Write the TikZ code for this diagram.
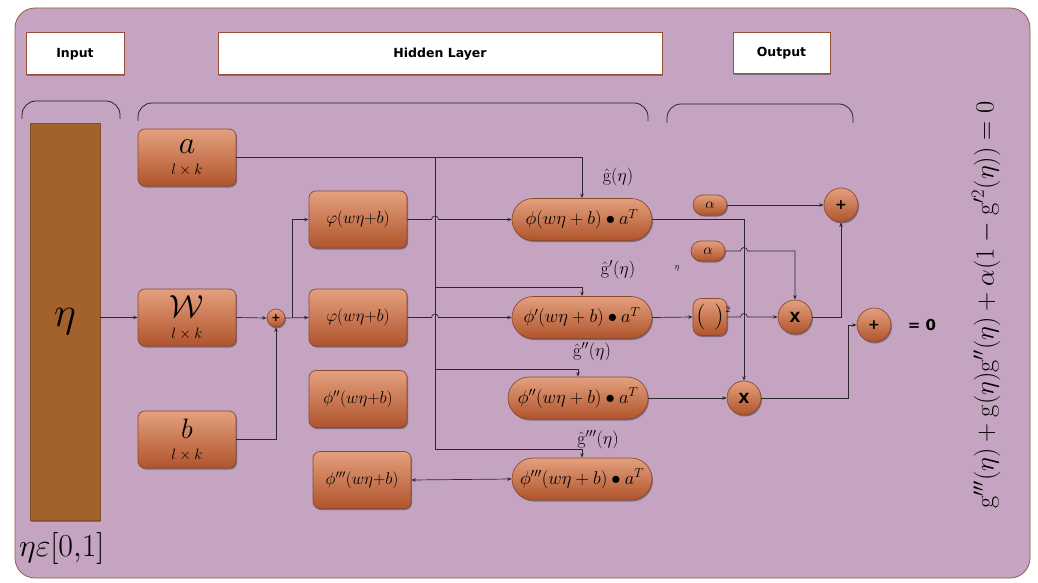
\RequirePackage{fix-cm}
\documentclass[tikz,border=0pt]{standalone}
\usepackage{amsmath}
\usepackage{fontspec}
\newfontfamily\hdfont{DejaVu Sans}
\usetikzlibrary{calc,shadows,arrows.meta}
\definecolor{bgc}{RGB}{196,164,192}
\definecolor{bgline}{RGB}{150,90,70}
\definecolor{boxtop}{RGB}{228,160,126}
\definecolor{boxbot}{RGB}{176,84,44}
\definecolor{boxline}{RGB}{140,74,48}
\definecolor{hdrline}{RGB}{150,80,55}
\definecolor{barc}{RGB}{163,98,44}
\definecolor{lnc}{RGB}{45,40,45}
\newcommand{\fs}[1]{\fontsize{#1}{#1}\selectfont}
\tikzset{
  shad/.style={drop shadow={shadow xshift=1pt,shadow yshift=-1.5pt,opacity=0.35,fill=black}},
  obox/.style={draw=boxline,line width=0.7pt,rounded corners=7pt,top color=boxtop,bottom color=boxbot,shad,inner sep=0pt,minimum width=98pt,minimum height=57pt,align=center},
  pill/.style={obox,rounded corners=21pt,minimum width=140pt,minimum height=42pt},
  smallpill/.style={obox,rounded corners=10pt,minimum width=34pt,minimum height=20pt},
  circ/.style={circle,draw=boxline,line width=0.7pt,top color=boxtop,bottom color=boxbot,shad,minimum size=34pt,inner sep=0pt,font=\hdfont\bfseries\fs{14}},
  hdr/.style={draw=hdrline,fill=white,line width=1pt,shad,inner sep=0pt,font=\hdfont\bfseries\fs{12.5}},
  glab/.style={inner sep=0.5pt},
  ln/.style={line width=0.7pt,draw=lnc},
  arr/.style={ln,-{Stealth[length=4.5pt,width=3.5pt]}},
  brace/.style={line width=0.8pt,draw=black!85,rounded corners=14pt},
}
\begin{document}
\begin{tikzpicture}[x=1pt,y=-1pt]
\useasboundingbox (0,0) rectangle (1038,583);
\draw[fill=bgc,draw=bgline,line width=0.8pt,rounded corners=20pt] (15,8) rectangle (1030,578);

% headers
\node[hdr,minimum width=98pt,minimum height=42pt] (inp) at (75,54) {Input};
\node[hdr,minimum width=444pt,minimum height=42pt] (hid) at (440,54) {Hidden Layer};
\node[hdr,minimum width=97pt,minimum height=41pt] (out) at (781.5,53.5) {Output};

% braces
\draw[brace] (22,119) -- (22,101) -- (120,101) -- (120,119);
\draw[brace] (138,121) -- (138,103) -- (648,103) -- (648,121);
\draw[brace] (667,123) -- (667,104) -- (853,104) -- (853,123);

% eta bar
\node[fill=barc,draw=barc!80!black,line width=0.5pt,shad,minimum width=70pt,minimum height=397pt,inner sep=0pt] (etabar) at (65,321.5) {\fs{42}$\eta$};
\node[anchor=west,inner sep=0pt] (range) at (19,548) {\fs{32}$\eta\varepsilon[0{,}1]$};

% input boxes
\node[obox] (a) at (187,157.5) {\fs{32}$a$\\[9pt]\fs{15}$l\times k$};
\node[obox] (W) at (187,317.5) {\fs{32}$\mathcal{W}$\\[9pt]\fs{15}$l\times k$};
\node[obox] (b) at (187,439.5) {\fs{28}$b$\\[9pt]\fs{15}$l\times k$};
\node[circle,draw=boxline,line width=0.7pt,top color=boxtop,bottom color=boxbot,shad,minimum size=18pt,inner sep=0pt,font=\hdfont\bfseries\fs{11}] (plus) at (276,318) {+};

% activation boxes
\node[obox] (f1) at (358,219.5) {\fs{17}$\varphi(w\eta{+}b)$};
\node[obox] (f2) at (358,317.5) {\fs{17}$\varphi(w\eta{+}b)$};
\node[obox] (f3) at (358,399) {\fs{17}$\phi''(w\eta{+}b)$};
\node[obox] (f4) at (362,480) {\fs{17}$\phi'''(w\eta{+}b)$};

% output pills
\node[pill] (g1) at (582,219.5) {\fs{18.5}$\phi(w\eta+b)\bullet a^{T}$};
\node[pill] (g2) at (582,317.5) {\fs{18.5}$\phi'(w\eta+b)\bullet a^{T}$};
\node[pill] (g3) at (578,398) {\fs{18.5}$\phi''(w\eta+b)\bullet a^{T}$};
\node[pill] (g4) at (582,479) {\fs{18.5}$\phi'''(w\eta+b)\bullet a^{T}$};
\node[glab] (lg1) at (618,177) {\fs{18}$\hat{\mathrm{g}}(\eta)$};
\node[glab] (lg2) at (618,270) {\fs{18}$\hat{\mathrm{g}}'(\eta)$};
\node[glab] (lg3) at (592,352) {\fs{18}$\hat{\mathrm{g}}''(\eta)$};
\node[glab] (lg4) at (598,440) {\fs{18}$\hat{\mathrm{g}}'''(\eta)$};

% output section
\node[smallpill] (al1) at (710,205) {\fs{15}$\alpha$};
\node[smallpill] (al2) at (708,251) {\fs{15}$\alpha$};
\node[glab] (etas) at (677,268) {\fs{9}$\eta$};
\node[obox,rounded corners=8pt,minimum width=34pt,minimum height=37pt] (sq) at (710,317) {\fs{26}$(\,\,)$};
\node[inner sep=0pt] (sq2) at (728,310) {\fs{9}$2$};
\node[circ] (x1) at (795,317) {X};
\node[circ] (x2) at (744,398) {X};
\node[circ] (p1) at (841,205) {+};
\node[circ] (p2) at (874,325) {+};
\node[font=\hdfont\bfseries\fs{15}] (eq0) at (922,325) {= 0};
\node[rotate=90] (deq) at (986,305) {\fs{26.5}$\mathrm{g}'''(\eta)+\mathrm{g}(\eta)\mathrm{g}''(\eta)+\alpha(1-\mathrm{g}'^{2}(\eta))=0$};

% connectors: input side
\draw[arr] (etabar.east |- W.west) -- (W.west);
\draw[arr] (W.east) -- (plus.west);
\draw[arr] (b.east) -| (plus.south);
\draw[arr] (plus.east) -- (f2.west);
\coordinate (br) at (292,317.5);
\draw[arr] (br) |- (f1.west);

% a distribution
\coordinate (vtop) at (435,157.5);
\coordinate (vbot) at (435,449);
\coordinate (v2) at (435,287);
\coordinate (v3) at (435,369);
\draw[arr] (a.east) -| (g1.north);
\draw[ln] (vtop) -- (vbot);
\draw[arr] (v2) -| (g2.north);
\draw[arr] (v3) -| (g3.north);
\draw[arr] (vbot) -| (g4.north);

% hidden to output with hops
\draw[arr] (f1.east) -- ($(vtop |- f1.east)+(-3.5,0)$) arc[start angle=180,end angle=0,radius=3.5pt] -- (g1.west);
\draw[arr] (f2.east) -- ($(vtop |- f2.east)+(-3.5,0)$) arc[start angle=180,end angle=0,radius=3.5pt] -- (g2.west);
\draw[ln,{Stealth[length=4.5pt,width=3.5pt]}-{Stealth[length=4.5pt,width=3.5pt]}] (f4.east) -- (g4.west);

% output section connectors
\draw[arr] (g1.east) -| (x2.north);
\draw[arr] (al1.east) -- (p1.west);
\draw[arr] (al2.east) -- ($(x2.north |- al2.east)+(-3.5,0)$) arc[start angle=180,end angle=0,radius=3.5pt] -| (x1.north);
\draw[arr] (g2.east) -- (sq.west);
\draw[arr] (sq.east) -- ($(x2.north |- sq.east)+(-3.5,0)$) arc[start angle=180,end angle=0,radius=3.5pt] -- (x1.west);
\draw[arr] (x1.east) -| (p1.south);
\draw[arr] (g3.east) -- (x2.west);
\draw[arr] (x2.east) -| ([xshift=-8pt]p2.west) -- (p2.west);
\end{tikzpicture}
\end{document}
